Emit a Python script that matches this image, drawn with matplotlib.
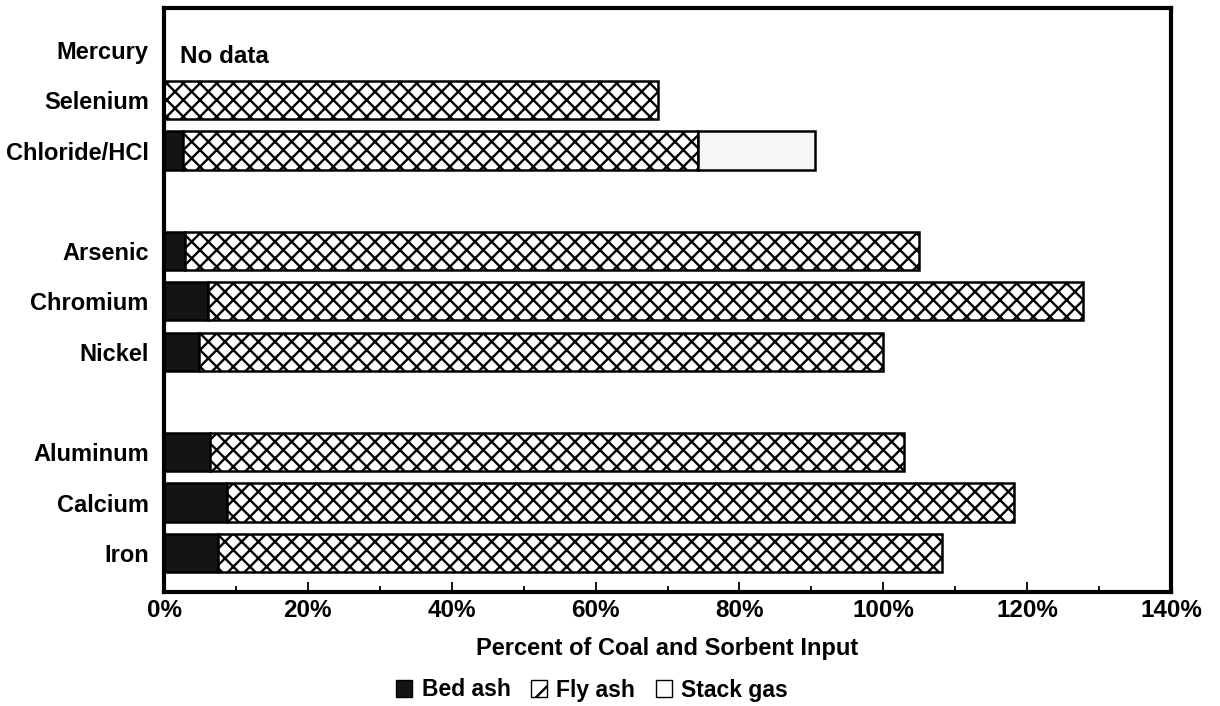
import numpy as np
import matplotlib
matplotlib.use("Agg")
import matplotlib.pyplot as plt
from matplotlib.patches import Patch
from matplotlib.ticker import MultipleLocator, FuncFormatter

# ---- data (percent of coal and sorbent input) ----
categories = ["Mercury", "Selenium", "Chloride/HCl",
              "Arsenic", "Chromium", "Nickel",
              "Aluminum", "Calcium", "Iron"]
group_sizes = [3, 3, 3]
bed_ash = [np.nan, 0.0, 2.6, 2.9, 6.1, 4.9, 6.4, 8.8, 7.5]
fly_ash = [np.nan, 68.7, 71.7, 102.1, 121.7, 95.1, 96.5, 109.4, 100.6]
stack_gas = [np.nan, 0.0, 16.2, 0.0, 0.0, 0.0, 0.0, 0.0, 0.0]
no_data_label = "No data"
series_names = ["Bed ash", "Fly ash", "Stack gas"]
x_label = "Percent of Coal and Sorbent Input"

plt.rcParams['font.family'] = ['Liberation Sans', 'DejaVu Sans']
plt.rcParams['font.weight'] = 'bold'
plt.rcParams['hatch.linewidth'] = 1.7

W, H = 1220, 706
fig = plt.figure(figsize=(W / 100, H / 100), dpi=100)
ax = fig.add_axes([164 / W, 1 - 592 / H, (1171 - 164) / W, (592 - 8) / H])

# y positions with a blank row between groups
ypos = []
row = 0
for gs in group_sizes:
    for _ in range(gs):
        ypos.append(row)
        row += 1
    row += 1
ypos = np.array(ypos, dtype=float)

bed = np.array(bed_ash)
fly = np.array(fly_ash)
stk = np.array(stack_gas)
valid = ~np.isnan(bed)
h = 0.76
lw = 1.8

yb = ypos[valid]
b = bed[valid]; f = fly[valid]; s = stk[valid]

m = b > 0
ax.barh(yb[m], b[m], height=h, color='#141414', edgecolor='black', linewidth=lw)
ax.barh(yb, f, left=b, height=h, color='white', edgecolor='black',
        linewidth=lw, hatch='xx')
m2 = s > 0
ax.barh(yb[m2], s[m2], left=(b + f)[m2], height=h, color='#f6f6f6',
        edgecolor='black', linewidth=lw)

# "No data" annotation
for i, c in enumerate(categories):
    if np.isnan(bed[i]):
        ax.text(2.2, ypos[i] + 0.12, no_data_label, va='center', ha='left',
                fontsize=17.5, fontweight='bold')

ax.set_xlim(0, 140)
ax.set_ylim(ypos[-1] + 0.78, ypos[0] - 0.835)
ax.set_yticks(ypos)
ax.set_yticklabels(categories, fontsize=17, fontweight='bold')
ax.tick_params(axis='y', length=0, pad=11)

ax.xaxis.set_major_locator(MultipleLocator(20))
ax.xaxis.set_minor_locator(MultipleLocator(10))
ax.xaxis.set_major_formatter(FuncFormatter(lambda v, p: f"{int(round(v))}%"))
ax.tick_params(axis='x', which='major', direction='in', length=7, width=1.3,
               labelsize=17.5, pad=5)
ax.tick_params(axis='x', which='minor', direction='in', length=4, width=1.3)
for lab in ax.get_xticklabels():
    lab.set_fontweight('bold')
ax.set_xlabel(x_label, fontsize=17, fontweight='bold', labelpad=11)

for sp in ax.spines.values():
    sp.set_linewidth(3)

handles = [Patch(facecolor='#141414', edgecolor='black', label=series_names[0]),
           Patch(facecolor='white', edgecolor='black', hatch='/', label=series_names[1]),
           Patch(facecolor='white', edgecolor='black', label=series_names[2])]
fig.legend(handles=handles, loc='center', bbox_to_anchor=(592 / W, 1 - 690 / H),
           ncol=3, frameon=False, handlelength=0.7,
           handleheight=0.8, handletextpad=0.4, columnspacing=0.9,
           prop={'weight': 'bold', 'size': 16.5})

fig.savefig("out.png", dpi=100)
